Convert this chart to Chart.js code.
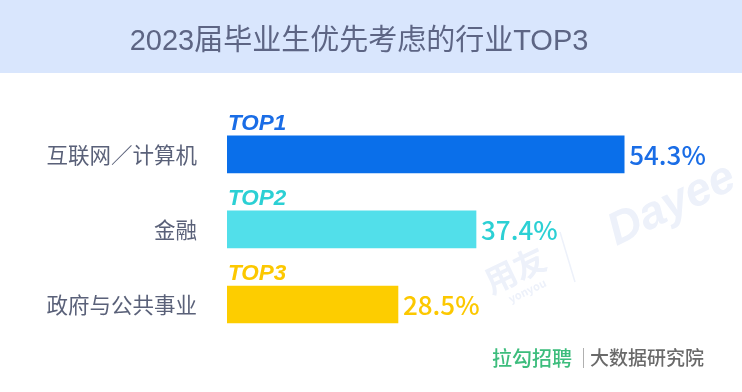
<!DOCTYPE html>
<html>
<head>
<meta charset="utf-8">
<script src="https://cdn.jsdelivr.net/npm/chart.js@4"></script>
<style>
  html, body { margin: 0; padding: 0; background: #fff; }
  #wrap { width: 742px; height: 392px; position: relative; }
</style>
</head>
<body>
<div id="wrap"><canvas id="barChart"></canvas></div>
<script>
// data
var industries = ['互联网／计算机', '金融', '政府与公共事业'];
var shares = [54.3, 37.4, 28.5];
var rankLabels = ['TOP1', 'TOP2', 'TOP3'];

var barColors = ['#0a6fea', '#52dfea', '#fdcd00'];
var textColors = ['#1a6de6', '#2cd0d4', '#fcc800'];

var font = '"Noto Sans CJK SC", "Noto Sans", sans-serif';
var titleFont = '"Liberation Sans", "Noto Sans CJK SC", sans-serif';

// header band, watermark and footer
var decor = {
	id: 'decor',
	beforeDraw: function (chart) {
		var ctx = chart.ctx;
		ctx.save();
		ctx.fillStyle = '#d9e6fd';
		ctx.fillRect(0, 0, chart.width, 73);

		// faint watermark
		ctx.fillStyle = '#edf1fa';
		ctx.strokeStyle = '#edf1fa';
		ctx.textAlign = 'center';
		ctx.textBaseline = 'middle';
		ctx.save();
		ctx.translate(515, 270);
		ctx.rotate(-0.45);
		ctx.font = 'bold 32px ' + font;
		ctx.fillText('用友', 0, 0);
		ctx.font = 'bold 11px ' + font;
		ctx.fillText('yonyou', 2, 24);
		ctx.restore();
		ctx.lineWidth = 1.5;
		ctx.beginPath();
		ctx.moveTo(560, 232);
		ctx.lineTo(575, 282);
		ctx.stroke();
		ctx.save();
		ctx.translate(672, 205);
		ctx.rotate(-0.45);
		ctx.font = 'italic 900 46px "Liberation Sans", Arial, sans-serif';
		ctx.fillText('Dayee', 0, 0);
		ctx.restore();
		ctx.restore();
	},
	afterDraw: function (chart) {
		var ctx = chart.ctx;
		ctx.save();
		ctx.textBaseline = 'middle';
		ctx.textAlign = 'left';
		ctx.font = '500 20px ' + font;
		ctx.fillStyle = '#3dbd7d';
		ctx.fillText('拉勾招聘', 492, 358);
		ctx.fillStyle = '#b0b0b0';
		ctx.fillRect(583, 348, 1, 20);
		ctx.font = '500 19px ' + font;
		ctx.fillStyle = '#6a6a6a';
		ctx.fillText('大数据研究院', 590, 358);
		ctx.restore();
	}
};

// rank tags above bars and values after them
var barText = {
	id: 'barText',
	afterDatasetsDraw: function (chart) {
		var ctx = chart.ctx;
		var meta = chart.getDatasetMeta(0);
		var left = chart.chartArea.left;
		ctx.save();
		meta.data.forEach(function (bar, i) {
			var top = bar.y - bar.height / 2;
			ctx.fillStyle = textColors[i];
			ctx.textAlign = 'left';
			ctx.textBaseline = 'alphabetic';
			ctx.font = 'italic bold 22.5px "Liberation Sans", Arial, sans-serif';
			ctx.fillText(rankLabels[i], left + 1, top - 6);

			ctx.textBaseline = 'middle';
			ctx.font = '500 26px ' + font;
			ctx.fillText(shares[i].toFixed(1) + '%', bar.x + 5, bar.y + 1);
		});
		ctx.restore();
	}
};

var ctx = document.getElementById('barChart');
var chart = new Chart(ctx, {
	type: 'bar',
	data: {
		labels: industries,
		datasets: [
			{
				data: shares,
				backgroundColor: barColors,
				barThickness: 37,
				borderWidth: 0
			}
		]
	},
	options: {
		indexAxis: 'y',
		responsive: true,
		maintainAspectRatio: false,
		animation: false,
		layout: {
			padding: { left: 0, right: 24, top: 0, bottom: 50 }
		},
		scales: {
			x: {
				display: false,
				min: 9,
				max: 65
			},
			y: {
				grid: { display: false, drawTicks: false },
				border: { display: false },
				ticks: {
					padding: 30,
					color: '#5a6179',
					font: { family: font, size: 21.5 }
				},
				afterFit: function (scale) {
					scale.width = 227;
				}
			}
		},
		plugins: {
			legend: { display: false },
			tooltip: { enabled: false },
			title: {
				display: true,
				text: '2023届毕业生优先考虑的行业TOP3',
				color: '#5d6584',
				font: { family: titleFont, size: 29, weight: 'normal', lineHeight: 1.2 },
				padding: { top: 25, bottom: 57 }
			}
		}
	},
	plugins: [decor, barText]
});
</script>
</body>
</html>
